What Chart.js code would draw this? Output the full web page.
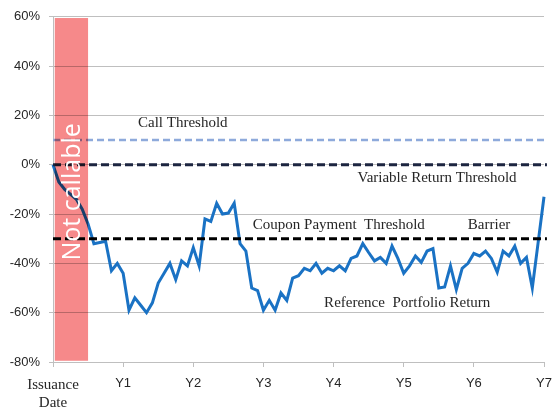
<!DOCTYPE html>
<html>
<head>
<meta charset="utf-8">
<script src="https://cdn.jsdelivr.net/npm/chart.js@4"></script>
<style>
  html, body { margin: 0; padding: 0; background: #fff; }
  #wrap { width: 554px; height: 410px; position: relative; }
</style>
</head>
<body>
<div id="wrap"><canvas id="chart"></canvas></div>
<script>
// monthly reference portfolio return (%), issuance date -> Y7
const portfolioReturn = [
  0, -7, -10, -12, -14, -18, -24, -32, -31.5, -31, -43, -40,
  -44, -59, -54, -57, -60, -56, -48, -44, -40, -46.6, -39, -41,
  -33.6, -41, -22, -23, -15.6, -20, -19.6, -15.6, -32, -35, -50, -51,
  -59, -55, -59, -52, -55, -46, -45, -42, -43, -40, -44, -42,
  -43, -41, -43, -38, -37, -32, -35.6, -39, -37.6, -40, -33, -38,
  -44, -41, -37, -39.6, -35, -34, -50, -49.6, -41, -50.6, -42, -40,
  -36, -37, -35, -38, -43.6, -35, -37, -33, -40, -37.6, -50, -31.5,
  -13
];
const yearLabels = ['Issuance Date', 'Y1', 'Y2', 'Y3', 'Y4', 'Y5', 'Y6', 'Y7'];
const monthsPerYear = 12;

const callThreshold = 10;
const variableReturnThreshold = 0;
const couponThreshold = -30;   // also the barrier
const notCallableMonths = [0.3, 6];

// text notes, anchored in data units (month, %)
const notes = [
  { text: 'Call Threshold', x: 22.2, y: 16.8 },
  { text: 'Variable Return Threshold', x: 65.7, y: -5.6 },
  { text: 'Coupon Payment  Threshold', x: 48.9, y: -24.4 },
  { text: 'Barrier', x: 74.6, y: -24.4 },
  { text: 'Reference  Portfolio Return', x: 60.6, y: -56 }
];

const lastMonth = portfolioReturn.length - 1;
const flat = v => [{ x: 0, y: v }, { x: lastMonth + 0.5, y: v }];

// red "not callable" band + text notes
const overlay = {
  id: 'overlay',
  afterDatasetsDraw(chart) {
    const { ctx, scales: { x, y } } = chart;
    const x0 = x.getPixelForValue(notCallableMonths[0]);
    const x1 = x.getPixelForValue(notCallableMonths[1]);
    const y0 = y.getPixelForValue(59.5);
    const y1 = y.getPixelForValue(-79.5);
    ctx.save();
    ctx.globalCompositeOperation = 'multiply';
    ctx.fillStyle = '#f6898a';
    ctx.fillRect(x0, y0, x1 - x0, y1 - y0);
    ctx.restore();

    ctx.save();
    ctx.translate((x0 + x1) / 2 + 1, y.getPixelForValue(-11));
    ctx.rotate(-Math.PI / 2);
    ctx.fillStyle = '#fff';
    ctx.font = '25px "Open Sans", sans-serif';
    ctx.textAlign = 'center';
    ctx.textBaseline = 'middle';
    ctx.fillText('Not callable', 0, 0);
    ctx.restore();

    ctx.save();
    ctx.fillStyle = '#262626';
    ctx.font = '15px "Liberation Serif", serif';
    ctx.textAlign = 'center';
    ctx.textBaseline = 'middle';
    notes.forEach(n => {
      ctx.fillText(n.text, x.getPixelForValue(n.x), y.getPixelForValue(n.y));
    });
    ctx.restore();
  }
};

new Chart(document.getElementById('chart'), {
  type: 'line',
  data: {
    datasets: [
      {
        label: 'Call Threshold',
        data: flat(callThreshold),
        borderColor: '#8eaadb',
        borderWidth: 2.5,
        borderDash: [7, 4],
        pointRadius: 0
      },
      {
        label: 'Variable Return Threshold',
        data: flat(variableReturnThreshold),
        borderColor: '#1c2540',
        borderWidth: 3,
        borderDash: [8, 4],
        pointRadius: 0
      },
      {
        label: 'Coupon Payment Threshold',
        data: flat(couponThreshold),
        borderColor: '#000',
        borderWidth: 3,
        borderDash: [8, 4],
        pointRadius: 0
      },
      {
        label: 'Reference Portfolio Return',
        data: portfolioReturn.map((v, i) => ({ x: i, y: v })),
        borderColor: '#1a72c4',
        borderWidth: 3,
        pointRadius: 0,
        tension: 0
      }
    ]
  },
  options: {
    responsive: true,
    maintainAspectRatio: false,
    animation: false,
    clip: false,
    layout: { padding: { top: 12, right: 10, left: 0, bottom: 0 } },
    plugins: {
      legend: { display: false },
      tooltip: { enabled: false }
    },
    scales: {
      x: {
        type: 'linear',
        min: 0,
        max: lastMonth,
        afterFit: s => { s.height = 48; s.paddingLeft = 0; s.paddingRight = 0; },
        afterBuildTicks: s => {
          s.ticks = yearLabels.map((_, i) => ({ value: i * monthsPerYear }));
        },
        grid: { drawOnChartArea: false, drawTicks: true, tickLength: 5, color: '#bfbfbf' },
        border: { color: '#bfbfbf' },
        ticks: {
          autoSkip: false,
          maxRotation: 0,
          padding: 9,
          color: '#262626',
          font: c => c.index === 0
            ? { family: '"Liberation Serif", serif', size: 15, lineHeight: 1.2 }
            : { family: '"Liberation Sans", sans-serif', size: 13 },
          callback: v => {
            const lbl = yearLabels[Math.round(v / monthsPerYear)];
            return lbl === 'Issuance Date' ? ['Issuance', 'Date'] : lbl;
          }
        }
      },
      y: {
        min: -80,
        max: 60,
        afterFit: s => { s.width = 53; },
        grid: { color: '#bfbfbf', tickLength: 4 },
        border: { color: '#bfbfbf' },
        ticks: {
          stepSize: 20,
          padding: 9,
          color: '#262626',
          font: { family: '"Liberation Sans", sans-serif', size: 13 },
          callback: v => v + '%'
        }
      }
    }
  },
  plugins: [overlay]
});
</script>
</body>
</html>
